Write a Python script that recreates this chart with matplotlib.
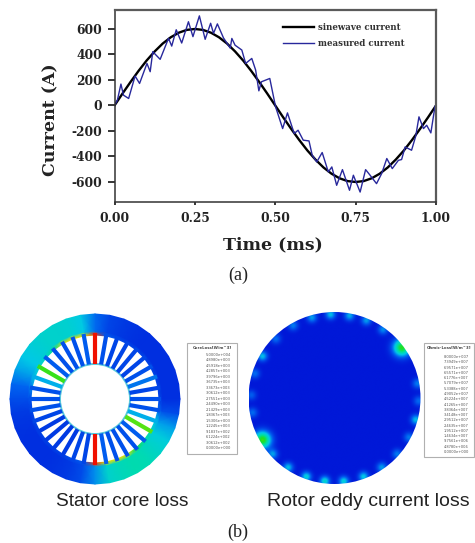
import numpy as np
import matplotlib
matplotlib.use('Agg')
import matplotlib.pyplot as plt
from matplotlib.collections import LineCollection
from matplotlib.colors import LinearSegmentedColormap
from matplotlib.patches import Circle, Rectangle

plt.rcParams['axes.unicode_minus'] = False

# (a) current waveforms
sine_t = [i * 0.025 for i in range(41)]
sine_i = [0, 94, 185, 272, 353, 424, 486, 535, 571, 593, 600, 593, 571, 535, 486, 424, 353, 272, 185, 94,
          0, -94, -185, -272, -353, -424, -486, -535, -571, -593, -600, -593, -571, -535, -486, -424, -353, -272, -185, -94, 0]
meas_t = [0, .009, .020, .028, .044, .064, .078, .101, .111, .119, .142, .168, .178, .192, .209, .230, .244, .264,
          .282, .299, .308, .320, .339, .360, .365, .375, .396, .408, .427, .439, .449, .457, .483, .501, .523, .538,
          .559, .571, .587, .605, .615, .629, .646, .665, .676, .691, .709, .731, .743, .764, .781, .795, .815, .831,
          .847, .864, .883, .893, .904, .924, .937, .947, .961, .971, .984, .997, 1.0]
meas_i = [0, 42, 168, 81, 55, 231, 173, 330, 265, 422, 362, 527, 466, 594, 490, 657, 540, 703,
          519, 645, 566, 640, 530, 450, 526, 473, 435, 330, 369, 278, 115, 186, 212, -10, -181, -58,
          -220, -194, -272, -278, -390, -443, -369, -521, -482, -626, -503, -665, -547, -679, -503, -547, -613, -534,
          -416, -495, -430, -424, -325, -351, -240, -89, -181, -155, -215, -5, 0]
y_ticks = [-600, -400, -200, 0, 200, 400, 600]
x_ticks = [0, 0.25, 0.5, 0.75, 1.0]
x_labels = ['0.00', '0.25', '0.50', '0.75', '1.00']

# (b) stator field, one value per 10 degrees starting east, 0 blue - 1 red
tooth_vals = [.10, .08, .15, .10, .08, .08, .08, .08, .10, 1.0, .12, .10, .10, .10, .12, .52, .22, .10,
              .10, .10, .08, .06, .06, .06, .06, .08, .08, 1.0, .12, .10, .10, .10, .12, .55, .22, .10]
yoke_vals = [.04, .04, .04, .04, .04, .04, .05, .06, .08, .14, .26, .29, .30, .30, .28, .25, .20, .13,
             .09, .06, .05, .04, .04, .04, .05, .06, .09, .18, .30, .33, .35, .34, .31, .27, .20, .09]
rim_vals = [.08, .08, .08, .08, .08, .08, .08, .10, .12, .95, .72, .75, .70, .40, .32, .30, .26, .18,
            .10, .08, .08, .08, .08, .08, .08, .10, .12, .95, .72, .74, .72, .46, .38, .32, .26, .14]

# (b) rotor rim spots: angle in degrees, strength
spot_angle = [37, 210, 10, 55, 68, 80, 93, 106, 120, 135, 150, 163, 178, 190, 222, 236, 250, 263, 276, 290, 304, 318, 332, 345, 358]
spot_value = [.50, .52, .16, .18, .20, .22, .24, .20, .16, .14, .24, .14, .12, .14, .20, .24, .28, .30, .28, .26, .20, .16, .16, .24, .14]

stator_labels = ['5.0000e+004', '4.8980e+003', '4.5918e+003', '4.2857e+003', '3.9796e+003', '3.6735e+003',
                 '3.3673e+003', '3.0612e+003', '2.7551e+003', '2.4490e+003', '2.1429e+003', '1.8367e+003',
                 '1.5306e+003', '1.2245e+003', '9.1837e+002', '6.1224e+002', '3.0612e+002', '0.0000e+000']
rotor_labels = ['8.0000e+007', '7.3949e+007', '6.9571e+007', '6.5571e+007', '6.1776e+007', '5.7079e+007',
                '5.3388e+007', '4.9052e+007', '4.5224e+007', '4.1265e+007', '3.8364e+007', '3.4148e+007',
                '2.9512e+007', '2.4635e+007', '1.9512e+007', '1.4634e+007', '9.7561e+006', '4.8780e+006', '0.0000e+000']

W, H = 475, 543
fig = plt.figure(figsize=(W / 100, H / 100), dpi=100)
bg = fig.add_axes([0, 0, 1, 1])
bg.set_xlim(0, W)
bg.set_ylim(H, 0)
bg.axis('off')

# top part
serif = 'DejaVu Serif'
ax = fig.add_axes([114.5 / W, 1 - 202 / H, (436 - 114.5) / W, 192 / H])
ax.plot(sine_t, sine_i, color='black', lw=1.7, label='sinewave current')
ax.plot(meas_t, meas_i, color='#28289c', lw=1, label='measured current')
ax.set_xlim(0, 1)
ax.set_ylim(-757, 749)
ax.set_xticks(x_ticks, x_labels)
ax.set_yticks(y_ticks)
ax.tick_params(axis='y', length=5, width=1.1, pad=4)
ax.tick_params(axis='x', length=2, width=1.1, pad=5)
for lab in ax.get_xticklabels() + ax.get_yticklabels():
    lab.set_family(serif)
    lab.set_weight('bold')
    lab.set_size(8.8)
    lab.set_color('#222222')
for s in ['top', 'right']:
    ax.spines[s].set_color('#5a5a5a')
    ax.spines[s].set_linewidth(1.6)
for s in ['left', 'bottom']:
    ax.spines[s].set_color('#333333')
    ax.spines[s].set_linewidth(1.1)
leg = ax.legend(loc='upper left', bbox_to_anchor=(0.523, 0.93), frameon=False, handlelength=3.6, handletextpad=0.55,
                labelspacing=0.75, borderpad=0, borderaxespad=0,
                prop={'family': serif, 'weight': 'bold', 'size': 6.2})
for t in leg.get_texts():
    t.set_color('#333333')

bg.text(51, 120, 'Current (A)', rotation=90, ha='center', va='center', family=serif, weight='bold', size=12.5, color='#222222')
bg.text(273, 245, 'Time (ms)', ha='center', va='center', family=serif, weight='bold', size=12.5, color='#222222')
bg.text(238, 275, '(a)', ha='center', va='center', family='Liberation Serif', size=13, color='#222222')
bg.text(238, 532, '(b)', ha='center', va='center', family='Liberation Serif', size=13, color='#222222')
bg.text(122, 501, 'Stator core loss', ha='center', va='center', family='Liberation Sans', size=13.8, color='#222222')
bg.text(368, 501, 'Rotor eddy current loss', ha='center', va='center', family='Liberation Sans', size=14, color='#222222')

cmap = LinearSegmentedColormap.from_list('fem', ['#0018d8', '#0060f0', '#00c8e8', '#00e0a0', '#20e020', '#a8e800', '#f8e000', '#ff8000', '#f01000'])

# stator yoke
cx, cy = 95, 399
th = np.deg2rad(np.arange(0, 361, 10))
radii = np.array([64, 68, 85])
yoke = np.array(yoke_vals + yoke_vals[:1])
rim = np.array(rim_vals + rim_vals[:1])
Z = np.vstack([rim, yoke, yoke])
R, T = np.meshgrid(radii, th, indexing='ij')
bg.pcolormesh(cx + R * np.cos(T), cy - R * np.sin(T), Z, cmap=cmap, vmin=0, vmax=1, shading='gouraud')

# stator teeth, the gaps between them are the slots
tooth_th = np.deg2rad(np.arange(0, 360, 10))
segs = [[(cx + 35 * np.cos(a), cy - 35 * np.sin(a)), (cx + 66 * np.cos(a), cy - 66 * np.sin(a))] for a in tooth_th]
bg.add_collection(LineCollection(segs, colors=cmap(np.array(tooth_vals)), linewidths=3))
bg.add_patch(Circle((cx, cy), 35, fill=False, ec='#58c8dc', lw=1.4))

# rotor
rx, ry, rr = 334.5, 398, 86
xs = np.linspace(rx - rr, rx + rr, 300)
ys = np.linspace(ry - rr, ry + rr, 300)
X, Y = np.meshgrid(xs, ys)
F = np.zeros_like(X)
for a, v in zip(spot_angle, spot_value):
    sx = rx + 84 * np.cos(np.deg2rad(a))
    sy = ry - 84 * np.sin(np.deg2rad(a))
    big = 6 if v > .4 else 3.5
    F += v * np.exp(-((X - sx) ** 2 + (Y - sy) ** 2) / (2 * big ** 2))
im = bg.imshow(F, extent=[xs[0], xs[-1], ys[-1], ys[0]], cmap=cmap, vmin=0, vmax=1, aspect='auto')
im.set_clip_path(Circle((rx, ry), rr, transform=bg.transData))
bg.set_xlim(0, W)
bg.set_ylim(H, 0)


def color_key(x0, y0, x1, y1, bx0, bx1, by0, by1, title, labels):
    bg.add_patch(Rectangle((x0, y0), x1 - x0, y1 - y0, fc='white', ec='#b0b0b0', lw=0.8))
    grad = np.linspace(1, 0, 200).reshape(-1, 1)
    bg.imshow(grad, extent=[bx0, bx1, by1, by0], cmap=cmap, vmin=0, vmax=1, aspect='auto')
    bg.set_xlim(0, W)
    bg.set_ylim(H, 0)
    bg.text((x0 + x1) / 2, y0 + 5, title, ha='center', va='center', size=2.8, weight='bold', color='#444444')
    for lab, y in zip(labels, np.linspace(by0 + 1, by1 - 1, len(labels))):
        bg.text(bx1 + 3, y, lab, ha='left', va='center', size=2.6, color='#555555')


color_key(187, 343, 237, 454, 190, 203, 354, 449, 'CoreLoss[W/m^3]', stator_labels)
color_key(424, 343, 474, 457, 428, 441, 356, 453, 'Ohmic-Loss[W/m^3]', rotor_labels)

fig.savefig('out.png', dpi=100)
